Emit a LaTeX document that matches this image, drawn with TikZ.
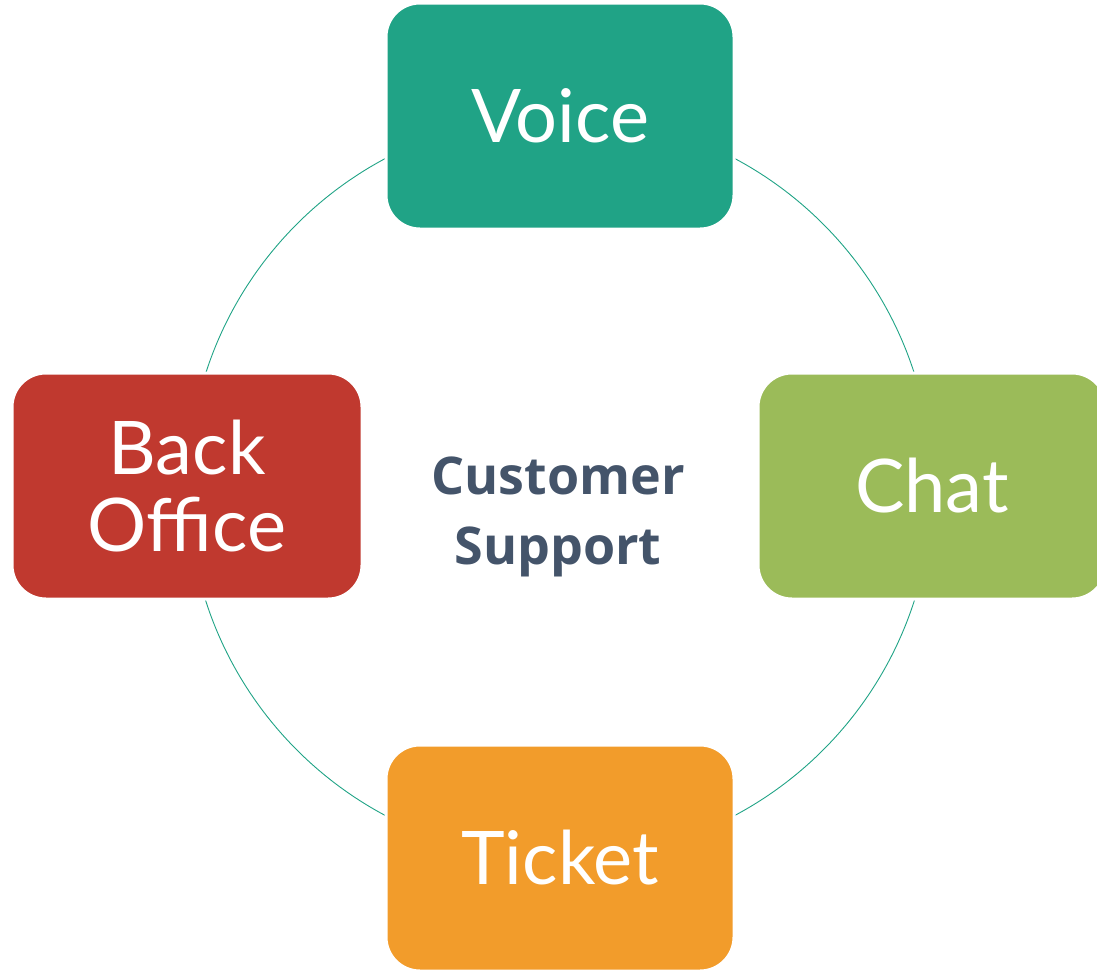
\documentclass[tikz,border=0pt]{standalone}
\usepackage{fontspec}
\setmainfont{Lato}
\newfontfamily\centerfont{Open Sans}
\usepackage{tikz}
\usetikzlibrary{positioning}
\definecolor{voicegreen}{HTML}{20A386}
\definecolor{chatgreen}{HTML}{9BBB59}
\definecolor{backred}{HTML}{C0392F}
\definecolor{ticketorange}{HTML}{F29C2B}
\definecolor{slate}{HTML}{44546A}

\begin{document}
\begin{tikzpicture}[
        x=1pt,y=-1pt,
        tile/.style={rectangle,rounded corners=34pt,draw=white,line width=3pt,
          minimum width=348pt,minimum height=226pt,inner sep=0pt,
          text=white,align=center,font=\fontsize{74}{77}\selectfont},
        ring/.style={draw=voicegreen,line width=0.9pt},
        hub/.style={text=slate,align=center,font=\centerfont\bfseries\fontsize{52}{70}\selectfont}
      ]
      \useasboundingbox (0,0) rectangle (1097,969);
      \clip (0,0) rectangle (1097,969);
      \node (CS) at (558,517) [hub] {Customer\\Support};
      \draw[ring] (560,487) circle[radius=372];
      \node (VOICE) at (560,116) [tile,fill=voicegreen] {Voice};
      \node (CHAT) at (932,486) [tile,fill=chatgreen] {Chat};
      \node (BACK) at (187,486) [tile,fill=backred,minimum width=350pt] {Back\\Office};
      \node (TICKET) at (560,858) [tile,fill=ticketorange] {Ticket};
    \end{tikzpicture}
\end{document}
